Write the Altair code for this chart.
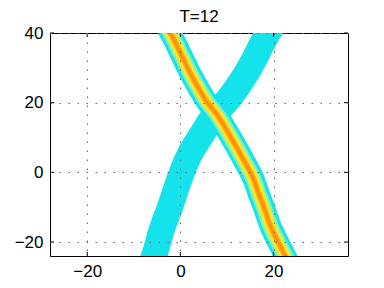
import altair as alt
import pandas as pd

# Band A (uniform cyan, bottom-left to top-right), centerline
band_a_y = [-26, -24.2, -16.0, -9.9, -3.1, 3.5, 10.2, 17.0, 20.8, 29.6, 40.0, 42.0]
band_a_x = [-6.2, -5.7, -3.9, -2.2, -0.5, 1.4, 4.3, 7.6, 10.2, 14.7, 18.8, 19.7]

# Band B (peaked core, top-left to bottom-right)
band_b_y = [42, 40, 27.5, 20.8, 16.5, 10.25, 3.5, -2.2, -6, -9.9, -15.6, -19.5, -24.2, -26]
band_b_x = [-3.0, -2.15, 2.5, 5.4, 7.9, 10.75, 13.6, 15.8, 16.8, 17.9, 19.4, 20.8, 22.6, 23.3]

x_ticks = [-20, 0, 20]
y_ticks = [-20, 0, 20, 40]

W, H = 298, 223
FONT = "Liberation Sans"

df_a = pd.DataFrame({"x": band_a_x, "y": band_a_y, "ord": range(len(band_a_x))})
df_b = pd.DataFrame({"x": band_b_x, "y": band_b_y, "ord": range(len(band_b_x))})

xs = alt.Scale(domain=[-28, 36], nice=False, zero=False)
ys = alt.Scale(domain=[-24, 40], nice=False, zero=False)

xax = alt.Axis(values=x_ticks, grid=True, gridDash=[1.5, 7.5], gridColor="#666666",
               gridWidth=1, ticks=False, domain=False, labelFont=FONT, labelFontSize=17,
               labelColor="black", labelPadding=7, title=None, zindex=1)
yax = alt.Axis(values=y_ticks, grid=True, gridDash=[1.5, 7.5], gridColor="#666666",
               gridWidth=1, ticks=False, domain=False, labelFont=FONT, labelFontSize=17,
               labelColor="black", labelPadding=7, title=None, zindex=1)


def band(df, width, color):
    return alt.Chart(df).mark_line(
        strokeWidth=width, color=color, clip=True, interpolate="monotone",
        strokeCap="butt", strokeJoin="round"
    ).encode(
        x=alt.X("x:Q", scale=xs, axis=xax),
        y=alt.Y("y:Q", scale=ys, axis=yax),
        order="ord:Q",
    )


layers = [
    band(df_a, 26, "#14E3EB"),
    band(df_b, 22, "#14E3EB"),
    band(df_b, 16, "#6AF2D2"),
    band(df_b, 12.5, "#C2F46A"),
    band(df_b, 9.5, "#FFE41E"),
    band(df_b, 5.5, "#FFA512"),
    band(df_b, 2, "#FF8A0A"),
]

tx = pd.DataFrame({"x": x_ticks})
ty = pd.DataFrame({"y": y_ticks})
tick_len = 4
ticks = [
    alt.Chart(tx).mark_rule(color="black", strokeWidth=1).encode(
        x=alt.X("x:Q", scale=xs, axis=xax), y=alt.value(H), y2=alt.value(H - tick_len)),
    alt.Chart(tx).mark_rule(color="black", strokeWidth=1).encode(
        x=alt.X("x:Q", scale=xs, axis=xax), y=alt.value(0), y2=alt.value(tick_len)),
    alt.Chart(ty).mark_rule(color="black", strokeWidth=1).encode(
        y=alt.Y("y:Q", scale=ys, axis=yax), x=alt.value(0), x2=alt.value(tick_len)),
    alt.Chart(ty).mark_rule(color="black", strokeWidth=1).encode(
        y=alt.Y("y:Q", scale=ys, axis=yax), x=alt.value(W), x2=alt.value(W - tick_len)),
]

chart = alt.layer(*layers, *ticks).properties(
    width=W, height=H,
    background="white",
    title=alt.TitleParams("T=12", font=FONT, fontSize=17, fontWeight="normal",
                          color="black", anchor="middle", offset=8, dy=10),
    autosize=alt.AutoSizeParams(type="none"),
    padding={"left": 42, "top": 25, "right": 20, "bottom": 24},
).configure_view(stroke="black", strokeWidth=1)

chart.save("out.html", embed_options={"renderer": "svg", "actions": False})
